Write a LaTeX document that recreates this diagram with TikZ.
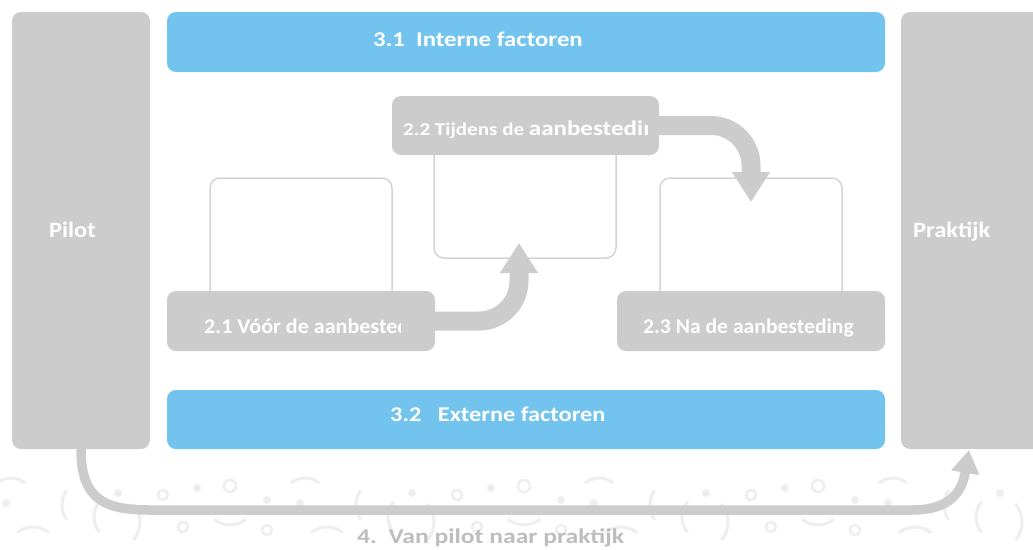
\documentclass[tikz,border=0pt]{standalone}
\usepackage{fontspec}
\setmainfont{Carlito}
\usetikzlibrary{arrows.meta}
\definecolor{boxgray}{HTML}{CCCCCC}
\definecolor{barblue}{HTML}{72C4EE}
\definecolor{linegray}{HTML}{D4D4D4}
\definecolor{patgray}{HTML}{EEEEEE}
\definecolor{titlegray}{HTML}{BDBDBD}
\tikzset{
  graybox/.style={fill=boxgray, rounded corners=9pt, inner sep=0pt, draw=none},
  bluebar/.style={fill=barblue, rounded corners=9pt, inner sep=0pt, draw=none},
  outlinebox/.style={draw=linegray, line width=1.5pt, fill=white, rounded corners=10pt, inner sep=0pt},
  wtext/.style={text=white, font=\bfseries\fontsize{21}{24}\selectfont, inner sep=0pt, anchor=base west},
  fatarrow/.style={draw=boxgray, line width=19pt, rounded corners=40pt, -{Triangle[width=36pt,length=30pt]}},
  thinarrow/.style={draw=boxgray, line width=9.5pt, -{Triangle[width=27pt,length=23pt]}},
  motif/.style={draw=patgray, line width=3pt},
  motifdot/.style={fill=patgray},
}
\newcommand{\wide}[2]{\scalebox{#1}[1]{#2}}
\begin{document}
\begin{tikzpicture}[x=1pt,y=-1pt]
\useasboundingbox (0,0) rectangle (1033,549);
% faint background pattern
\foreach \o in {-294,0,294,588,882}{
  \begin{scope}[xshift=\o pt]
    \draw[motif] ([shift={(145:26)}]88,505) arc[start angle=145, end angle=215, radius=26];
    \draw[motif] ([shift={(140:24)}]118,517) arc[start angle=140, end angle=220, radius=24];
    \draw[motif] ([shift={(-40:28)}]112,522) arc[start angle=-40, end angle=40, radius=28];
    \fill[motifdot] (118,493) circle[radius=4];
    \draw[motif, line width=2.5pt] (163,495) circle[radius=5];
    \fill[motifdot] (197,488) circle[radius=4];
    \draw[motif, line width=2.5pt] (230,486) circle[radius=6];
    \fill[motifdot] (267,500) circle[radius=4];
    \draw[motif, line width=2.5pt] (183,527) circle[radius=5];
    \draw[motif, line width=2.5pt] (267,530) circle[radius=5];
    \draw[motif] ([shift={(50:25)}]230,500) arc[start angle=50, end angle=130, radius=25];
    \draw[motif] ([shift={(230:22)}]305,500) arc[start angle=230, end angle=310, radius=22];
    \draw[motif] ([shift={(230:25)}]327,552) arc[start angle=230, end angle=310, radius=25];
    \fill[motifdot] (300,503) circle[radius=4];
  \end{scope}
}
% side boxes
\node[graybox, minimum width=138pt, minimum height=437pt] (pilot) at (81,230.5) {};
\node[graybox, minimum width=144pt, minimum height=437pt] (prak) at (973,230.5) {};
% bottom connector
\coordinate (t3) at (969,450);
\draw[thinarrow] (pilot.south) .. controls (81,500) and (105,510) .. (150,510)
  -- (912,510) .. controls (950,510) and (962,492) .. (t3);
% blue bars
\node[bluebar, minimum width=718pt, minimum height=60pt] (int) at (526,42) {};
\node[bluebar, minimum width=718pt, minimum height=59pt] (ext) at (526,419.5) {};
% outline boxes
\node[outlinebox, minimum width=182pt, minimum height=130pt] (o1) at (301,243) {};
\node[outlinebox, minimum width=182pt, minimum height=133pt] (o2) at (525,191.5) {};
\node[outlinebox, minimum width=182pt, minimum height=130pt] (o3) at (751,243) {};
% label boxes
\node[graybox, minimum width=268pt, minimum height=60pt] (b21) at (301,321) {};
\node[graybox, minimum width=267pt, minimum height=59pt] (b22) at (525.5,125.5) {};
\node[graybox, minimum width=268pt, minimum height=60pt] (b23) at (751,321) {};
% fat arrows
\coordinate (t1) at (519,243);
\coordinate (t2) at (751,202);
\draw[fatarrow] (b21.east) -| (t1);
\draw[fatarrow] (b22.east) -| (t2);
% texts
\node[wtext, font=\bfseries\fontsize{22}{24}\selectfont] (lpilot) at (49,237) {\wide{1.11}{Pilot}};
\node[wtext, font=\bfseries\fontsize{22}{24}\selectfont] (lprak) at (913,237) {\wide{1.11}{Praktijk}};
\node[wtext] (lint) at (373,46.7) {\wide{1.18}{3.1\ \ Interne factoren}};
\node[wtext] (lext) at (390,421) {\wide{1.16}{3.2\ \ \ Externe factoren}};
\begin{scope}
  \clip (167,291) rectangle (400,351);
  \node[wtext] (l21) at (204,333) {\wide{1.05}{2.1 Vóór de aanbesteding}};
\end{scope}
\begin{scope}
  \clip (392,96) rectangle (647,155);
  \node[wtext] (l22) at (403,135) {\wide{1.17}{\fontsize{18}{20}\selectfont 2.2 Tijdens de }\wide{1.19}{aanbesteding}};
\end{scope}
\node[wtext] (l23) at (643,333) {\wide{1.03}{2.3 Na de aanbesteding}};
\node[inner sep=0pt, anchor=base west, text=titlegray, font=\bfseries\fontsize{21}{24}\selectfont] (l4) at (357,543) {\wide{1.22}{4.\ \ Van pilot naar praktijk}};
\end{tikzpicture}
\end{document}
